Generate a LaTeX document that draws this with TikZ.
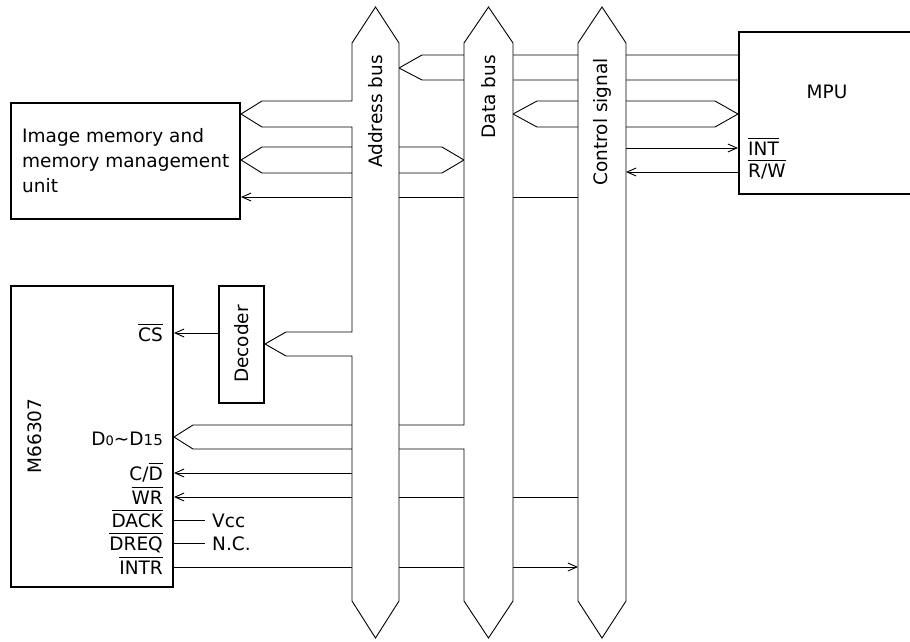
\documentclass[tikz,border=0pt]{standalone}
\usepackage{fontspec}
\setmainfont{DejaVu Sans}
\usetikzlibrary{arrows.meta}

\newcommand\ovl[1]{\vbox{\hrule height 0.9pt \kern 2.5pt \hbox{#1}}}

\tikzset{
  box/.style={draw, line width=2pt, inner sep=0pt},
  sig/.style={line width=0.9pt},
  sigarr/.style={sig, -{Straight Barb[length=9pt,width=8pt]}},
  bus/.style={line width=0.9pt, fill=white},
  txt/.style={font=\fontsize{18.5}{25}\selectfont, inner sep=0pt},
}

\begin{document}
\begin{tikzpicture}[x=1pt, y=-1pt]
\useasboundingbox (0,0) rectangle (910,641);

% bus edges
\coordinate (ab-l) at (352,0); \coordinate (ab-r) at (399,0);
\coordinate (db-l) at (464,0); \coordinate (db-r) at (513,0);
\coordinate (cs-l) at (578,0); \coordinate (cs-r) at (626,0);

% blocks
\node[box, minimum width=229pt, minimum height=116pt] (mem) at (125.5,161) {};
\node[box, minimum width=176pt, minimum height=162pt] (mpu) at (827,113) {};
\node[box, minimum width=162pt, minimum height=301pt] (lcd) at (92,436.5) {};
\node[box, minimum width=45pt, minimum height=117pt] (dec) at (241.5,344.5) {};

% lines that run under the buses
\draw[sigarr] (cs-l |- 0,197) -- (mem.east |- 0,197);
\foreach \y in {497}
  \draw[sigarr] (cs-l |- 0,\y) -- (lcd.east |- 0,\y);
\draw[sigarr] (lcd.east |- 0,567) -- (cs-l |- 0,567);

\draw[sig] (mpu.west |- 0,55) -- (422,55) -- (ab-r |- 0,68) -- (422,80) -- (mpu.west |- 0,80);
\draw[sig] (db-r |- 0,114) -- (537,101) -- (715,101) -- (mpu.west |- 0,114)
  -- (715,127) -- (537,127) -- cycle;
\draw[sig] (mem.east |- 0,160) -- (262,147) -- (442,147) -- (db-l |- 0,160)
  -- (442,173) -- (262,173) -- cycle;

% buses
\filldraw[bus] (602,7) -- (626,43) -- (626,601) -- (602,638) -- (578,601) -- (578,43) -- cycle;
\filldraw[bus] (488.5,7) -- (513,43) -- (513,601) -- (488.5,638) -- (464,601)
  -- (464,449) -- (193,449) -- (lcd.east |- 0,437) -- (193,425) -- (464,425) -- (464,43) -- cycle;
\filldraw[bus] (375.5,7) -- (399,43) -- (399,601) -- (375.5,638) -- (352,601)
  -- (352,356) -- (286,356) -- (dec.east |- 0,344) -- (286,332) -- (352,332)
  -- (352,127) -- (262,127) -- (mem.east |- 0,114) -- (262,101) -- (352,101) -- (352,43) -- cycle;

\node[txt, rotate=90, anchor=east] (ab-t) at (375.5,55) {Address bus};
\node[txt, rotate=90, anchor=east] (db-t) at (488.5,55) {Data bus};
\node[txt, rotate=90, anchor=east] (cs-t) at (602,58) {Control signal};

% MPU side
\draw[sigarr] (cs-r |- 0,148) -- (mpu.west |- 0,148);
\draw[sigarr] (mpu.west |- 0,172) -- (cs-r |- 0,172);
\node[txt] (mpu-t) at (827,92) {MPU};
\node[txt, anchor=base west] (int) at (748,155) {\ovl{INT}};
\node[txt, anchor=base west] (rw) at (748,177) {\ovl{R/W}};

% memory unit
\node[txt, anchor=west, align=left] (mem-t) at (22,161) {Image memory and\\memory management\\unit};

% decoder and M66307
\node[txt, rotate=90] (dec-t) at (241.5,344) {Decoder};
\node[txt, rotate=90] (lcd-t) at (35,436) {M66307};
\draw[sigarr] (dec.west |- 0,333) -- (lcd.east |- 0,333);
\draw[sigarr] (ab-l |- 0,473) -- (lcd.east |- 0,473);

\node[txt, anchor=base east] (pin-cs) at (163,341) {\ovl{CS}};
\node[txt, anchor=base east] (pin-d) at (163,445)
  {D{\fontsize{13}{13}\selectfont 0}\textasciitilde D{\fontsize{15}{15}\selectfont 15}};
\node[txt, anchor=base east] (pin-cd) at (163,480) {C/\ovl{D}};
\foreach \l/\y [count=\i] in {\ovl{WR}/497, \ovl{DACK}/520, \ovl{DREQ}/543, \ovl{INTR}/567}
  \node[txt, anchor=base east] (pin-\i) at (163,\y+7) {\l};

\node[txt, anchor=base west] (vcc) at (212,527) {Vcc};
\node[txt, anchor=base west] (nc) at (212,550) {N.C.};
\draw[sig, shorten >=7pt] (lcd.east |- vcc) -- (vcc.west);
\draw[sig, shorten >=7pt] (lcd.east |- nc) -- (nc.west);

\end{tikzpicture}
\end{document}
